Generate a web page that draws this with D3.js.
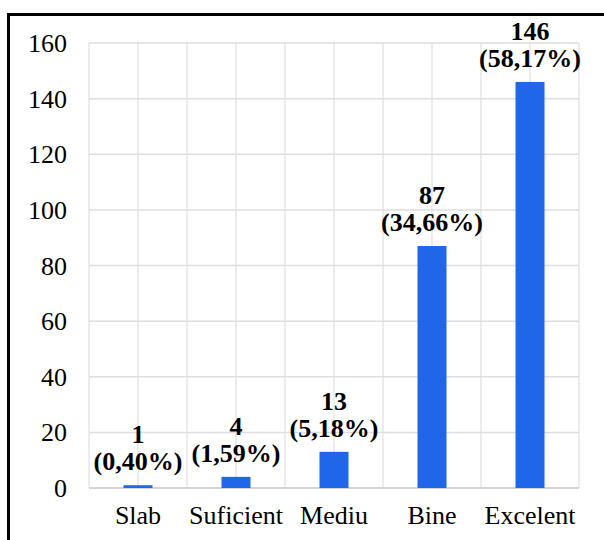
<!DOCTYPE html>
<html>
<head>
<meta charset="utf-8">
<script src="https://cdn.jsdelivr.net/npm/d3@7"></script>
</head>
<body style="margin:0">
<svg id="chart" width="604" height="540"></svg>
<script>
var categories = ["Slab", "Suficient", "Mediu", "Bine", "Excelent"];
var counts = [1, 4, 13, 87, 146];
var percents = ["(0,40%)", "(1,59%)", "(5,18%)", "(34,66%)", "(58,17%)"];
var yTicks = [0, 20, 40, 60, 80, 100, 120, 140, 160];

var size = {width:604, height:540};
var margins = {top:43, bottom:52, left:89, right:25};

var graph =
{
    width:size.width-margins.left-margins.right,
    height:size.height-margins.top-margins.bottom
}

var svg = d3.select("#chart");

// black frame (cut off on right and bottom)
svg.append("path")
    .attr("d","M8.5,545 L8.5,14.5 L610,14.5")
    .attr("fill","none")
    .attr("stroke","#000")
    .attr("stroke-width",3);

var xScale = d3.scaleBand()
    .domain(categories)
    .range([margins.left,margins.left+graph.width]);

var yScale = d3.scaleLinear()
    .domain([0,160])
    .range([margins.top+graph.height,margins.top]);

var xMid = function(c){return xScale(c)+xScale.bandwidth()/2;};

// vertical gridlines at band edges and centres
var vLines = [];
categories.forEach(function(c){
    vLines.push(xScale(c));
    vLines.push(xMid(c));
});
vLines.push(xScale.range()[1]);

svg.selectAll("line.vgrid")
    .data(vLines)
    .enter()
    .append("line")
    .attr("x1",function(d){return d;})
    .attr("x2",function(d){return d;})
    .attr("y1",yScale(160))
    .attr("y2",yScale(0))
    .attr("stroke","#e6e6e6")
    .attr("stroke-width",1.5);

svg.selectAll("line.hgrid")
    .data(yTicks)
    .enter()
    .append("line")
    .attr("x1",xScale.range()[0])
    .attr("x2",xScale.range()[1])
    .attr("y1",function(d){return yScale(d);})
    .attr("y2",function(d){return yScale(d);})
    .attr("stroke",function(d){return d==0 ? "#d4d4d4" : "#dedede";})
    .attr("stroke-width",function(d){return d==0 ? 2 : 1.5;});

var barWidth = 29;

svg.selectAll("rect")
    .data(counts)
    .enter()
    .append("rect")
    .attr("x",function(d,i){return xMid(categories[i])-barWidth/2;})
    .attr("y",function(d){return yScale(d);})
    .attr("width",barWidth)
    .attr("height",function(d){return yScale(0)-yScale(d);})
    .attr("fill","#1f66e8");

// place text by measuring it instead of using text-anchor
var align = function(sel,frac)
{
    sel.each(function()
    {
        var t = d3.select(this);
        var w = this.getComputedTextLength();
        t.attr("x",+t.attr("x")-w*frac);
    });
}

// value labels: count on top line, percent below
var cnt = svg.selectAll("text.cnt")
    .data(counts)
    .enter()
    .append("text")
    .attr("x",function(d,i){return xMid(categories[i]);})
    .attr("y",function(d){return yScale(d)-42;})
    .attr("font-family","Liberation Serif")
    .attr("font-weight","bold")
    .attr("font-size",26)
    .text(function(d){return d;});
align(cnt,0.5);

var pct = svg.selectAll("text.pct")
    .data(counts)
    .enter()
    .append("text")
    .attr("x",function(d,i){return xMid(categories[i]);})
    .attr("y",function(d){return yScale(d)-15;})
    .attr("font-family","Liberation Serif")
    .attr("font-weight","bold")
    .attr("font-size",26)
    .text(function(d,i){return percents[i];});
align(pct,0.5);

// y tick labels
var yt = svg.selectAll("text.ytick")
    .data(yTicks)
    .enter()
    .append("text")
    .attr("x",margins.left-22)
    .attr("y",function(d){return yScale(d)+9;})
    .attr("font-family","Liberation Serif")
    .attr("font-size",26)
    .text(function(d){return d;});
align(yt,1);

// x tick labels
var xt = svg.selectAll("text.xtick")
    .data(categories)
    .enter()
    .append("text")
    .attr("x",function(d){return xMid(d);})
    .attr("y",yScale(0)+36)
    .attr("font-family","Liberation Serif")
    .attr("font-size",26)
    .text(function(d){return d;});
align(xt,0.5);
</script>
</body>
</html>
